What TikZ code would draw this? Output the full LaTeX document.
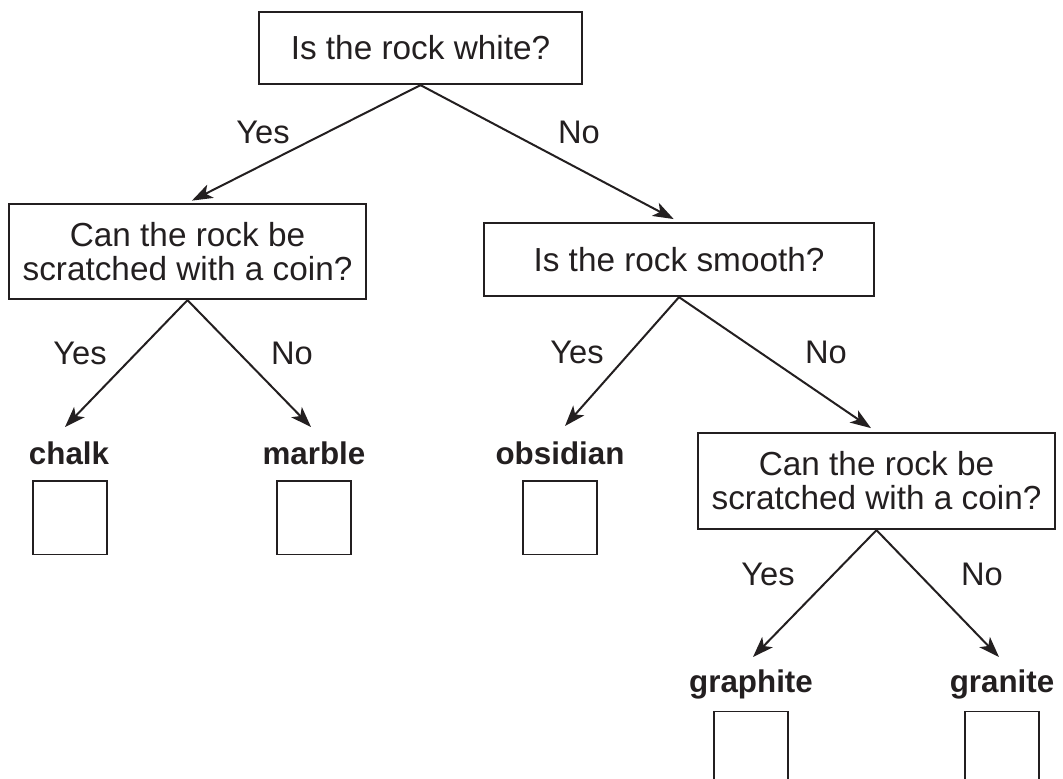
\documentclass[tikz,border=0pt]{standalone}
\usepackage{fontspec}
\setmainfont{Liberation Sans}
\usetikzlibrary{arrows.meta}
\definecolor{ink}{HTML}{231F20}
\begin{document}
\begin{tikzpicture}[x=0.75pt,y=-0.75pt,
  qbox/.style={draw=ink, line width=1.7pt, align=center, inner sep=0pt,
    font=\fontsize{25}{25.5}\selectfont, text=ink},
  ans/.style={anchor=base, font=\fontsize{24.5}{24.5}\selectfont, text=ink, inner sep=0pt},
  leaf/.style={anchor=base, font=\fontsize{23.5}{23.5}\selectfont\bfseries, text=ink, inner sep=0pt},
  tickbox/.style={draw=ink, line width=1pt, minimum width=55.5pt, minimum height=55pt, inner sep=0pt},
  arr/.style={draw=ink, line width=1.5pt, -{Stealth[length=15.5pt,width=11pt,inset=4pt]}},
]
\useasboundingbox (0,0) rectangle (1063,778);
\clip (0,0) rectangle (1063,778);

% question boxes
\node[qbox, minimum width=242.25pt, minimum height=54pt] (top) at (420.5,48) {Is the rock white?};
\node[qbox, minimum width=267.75pt, minimum height=71.25pt] (lb) at (187.5,251.5) {Can the rock be\\scratched with a coin?};
\node[qbox, minimum width=292.5pt, minimum height=54.75pt] (mid) at (679,259.5) {Is the rock smooth?};
\node[qbox, minimum width=267.75pt, minimum height=72pt] (lr) at (876.5,481) {Can the rock be\\scratched with a coin?};

% leaves
\node[leaf] (chalk) at (69,464) {chalk};
\node[leaf] (marble) at (314,464) {marble};
\node[leaf] (obsidian) at (560,464) {obsidian};
\node[leaf] (graphite) at (751,692) {graphite};
\node[leaf] (granite) at (1002,692) {granite};

% tick boxes
\node[tickbox] (sqchalk) at (70,517.5) {};
\node[tickbox] (sqmarble) at (314,517.5) {};
\node[tickbox] (sqobsidian) at (560,517.5) {};
\node[tickbox] (sqgraphite) at (751,748) {};
\node[tickbox] (sqgranite) at (1002,748) {};

% arrow tips above leaves
\coordinate (tchalk) at (65,427);
\coordinate (tmarble) at (311,427);
\coordinate (tobsidian) at (565,426);
\coordinate (tgraphite) at (753,657);
\coordinate (tgranite) at (999,657);

% connectors
\draw[arr, shorten >=3.75pt] (top.south) -- (lb.north);
\draw[arr, shorten >=4.5pt] (top.south) -- (mid.north);
\draw[arr] (lb.south) -- (tchalk);
\draw[arr] (lb.south) -- (tmarble);
\draw[arr] (mid.south) -- (tobsidian);
\draw[arr, shorten >=5pt] (mid.south) -- (lr.north);
\draw[arr] (lr.south) -- (tgraphite);
\draw[arr] (lr.south) -- (tgranite);

% answer labels
\node[ans] (y1) at (263,143) {Yes};
\node[ans] (n1) at (579,143) {No};
\node[ans] (y2) at (80,364) {Yes};
\node[ans] (n2) at (292,364) {No};
\node[ans] (y3) at (577,363) {Yes};
\node[ans] (n3) at (826,363) {No};
\node[ans] (y4) at (768,585) {Yes};
\node[ans] (n4) at (982,585) {No};
\end{tikzpicture}
\end{document}
